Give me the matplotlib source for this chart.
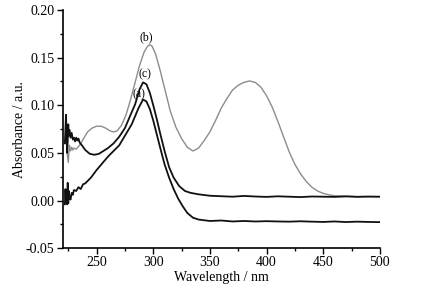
import numpy as np
import matplotlib
matplotlib.use("Agg")
import matplotlib.pyplot as plt
from matplotlib.ticker import MultipleLocator, FormatStrFormatter

plt.rcParams['font.family'] = ['Liberation Serif', 'DejaVu Serif']
plt.rcParams['axes.unicode_minus'] = False

# curva (b), grigia
wl_b = [222, 223, 224, 225, 226, 227, 228, 229, 230, 232, 235, 238, 242, 246,
        250, 254, 258, 262, 265, 268, 272, 276, 280, 284, 288, 292, 295, 297,
        299, 302, 306, 310, 315, 320, 325, 330, 335, 340, 345, 350, 355, 360,
        365, 370, 375, 380, 385, 390, 395, 400, 405, 410, 415, 420, 425, 430,
        435, 440, 445, 450, 455, 460, 470, 480, 490, 500]
abs_b = [0.060, 0.072, 0.050, 0.040, 0.058, 0.052, 0.056, 0.053, 0.055, 0.054,
         0.058, 0.064, 0.072, 0.076, 0.078, 0.078, 0.076, 0.073, 0.072, 0.073,
         0.079, 0.090, 0.106, 0.124, 0.142, 0.156, 0.162, 0.1635, 0.162, 0.154,
         0.137, 0.118, 0.094, 0.077, 0.065, 0.056, 0.052, 0.055, 0.063, 0.072,
         0.084, 0.097, 0.107, 0.116, 0.121, 0.124, 0.1255, 0.124, 0.119, 0.110,
         0.098, 0.083, 0.067, 0.051, 0.038, 0.028, 0.020, 0.014, 0.010, 0.0075,
         0.006, 0.005, 0.0045, 0.004, 0.0042, 0.004]

# curva (c), nera
wl_c = [222, 222.5, 223, 223.5, 224, 224.5, 225, 225.5, 226, 227,
        228, 229, 230, 231, 232, 233, 234, 235, 237, 240,
        244, 248, 252, 256, 260, 265, 270, 275, 280, 284,
        288, 291, 294, 297, 300, 303, 306, 310, 314, 318,
        323, 328, 333, 340, 350, 360, 370, 380, 390, 400,
        410, 420, 430, 440, 450, 460, 470, 480, 490, 500]
abs_c = [0.060, 0.075, 0.090, 0.070, 0.050, 0.062, 0.080, 0.068, 0.074, 0.066,
         0.071, 0.064, 0.066, 0.062, 0.066, 0.063, 0.065, 0.061, 0.058, 0.053,
         0.049, 0.048, 0.049, 0.052, 0.055, 0.060, 0.067, 0.076, 0.090, 0.101,
         0.117, 0.124, 0.122, 0.113, 0.100, 0.086, 0.071, 0.052, 0.035, 0.024,
         0.015, 0.010, 0.008, 0.0065, 0.005, 0.0045, 0.004, 0.0048, 0.0042, 0.0038,
         0.0044, 0.004, 0.0036, 0.0042, 0.004, 0.0038, 0.0043, 0.0039, 0.0041, 0.004]

# curva (a), nera
wl_a = [222, 222.5, 223, 223.5, 224, 224.5, 225, 225.5, 226, 227,
        228, 229, 230, 232, 234, 236, 238, 240, 245, 250,
        255, 260, 265, 270, 275, 281, 287, 291, 294, 297,
        300, 303, 306, 310, 314, 318, 322, 326, 330, 335,
        340, 350, 360, 370, 380, 390, 400, 410, 420, 430,
        440, 450, 460, 470, 480, 490, 500]
abs_a = [-0.004, 0.012, -0.002, 0.008, -0.004, 0.0185, -0.003, 0.010, 0.004, 0.001,
         0.008, 0.006, 0.011, 0.010, 0.014, 0.012, 0.017, 0.018, 0.024, 0.032,
         0.039, 0.046, 0.052, 0.058, 0.068, 0.080, 0.097, 0.106, 0.104, 0.096,
         0.084, 0.070, 0.056, 0.038, 0.024, 0.012, 0.002, -0.006, -0.013, -0.018,
         -0.020, -0.0215, -0.021, -0.022, -0.0215, -0.022, -0.0217, -0.022, -0.0222, -0.0218,
         -0.0222, -0.0225, -0.022, -0.0226, -0.0222, -0.0225, -0.0227]

etichette = ['(a)', '(b)', '(c)']
pos_etichette = [(287.5, 0.112), (293.6, 0.1715), (292.5, 0.132)]

fig = plt.figure(figsize=(4.23, 2.94), dpi=100)
ax = fig.add_axes([0.148, 0.156, 0.75, 0.81])

ax.plot(wl_b, abs_b, color='#8c8c8c', lw=1.0)
ax.plot(wl_c, abs_c, color='#111111', lw=1.3)
ax.plot(wl_a, abs_a, color='#111111', lw=1.3)

for testo, (x, y) in zip(etichette, pos_etichette):
    ax.text(x, y, testo, fontsize=8.5, ha='center', va='center')

ax.set_xlim(220, 500)
ax.set_ylim(-0.05, 0.20)
ax.xaxis.set_major_locator(MultipleLocator(50))
ax.xaxis.set_minor_locator(MultipleLocator(25))
ax.yaxis.set_major_locator(MultipleLocator(0.05))
ax.yaxis.set_minor_locator(MultipleLocator(0.025))
ax.yaxis.set_major_formatter(FormatStrFormatter('%.2f'))

for s in ['top', 'right']:
    ax.spines[s].set_visible(False)
for s in ['left', 'bottom']:
    ax.spines[s].set_linewidth(1.2)

ax.tick_params(which='major', direction='out', length=4, width=1.0, labelsize=10, pad=2)
ax.tick_params(which='minor', direction='out', length=2.5, width=1.0)

ax.set_xlabel('Wavelength / nm', fontsize=10, labelpad=1)
ax.set_ylabel('Absorbance / a.u.', fontsize=10, labelpad=0)

fig.savefig('out.png', dpi=100)
